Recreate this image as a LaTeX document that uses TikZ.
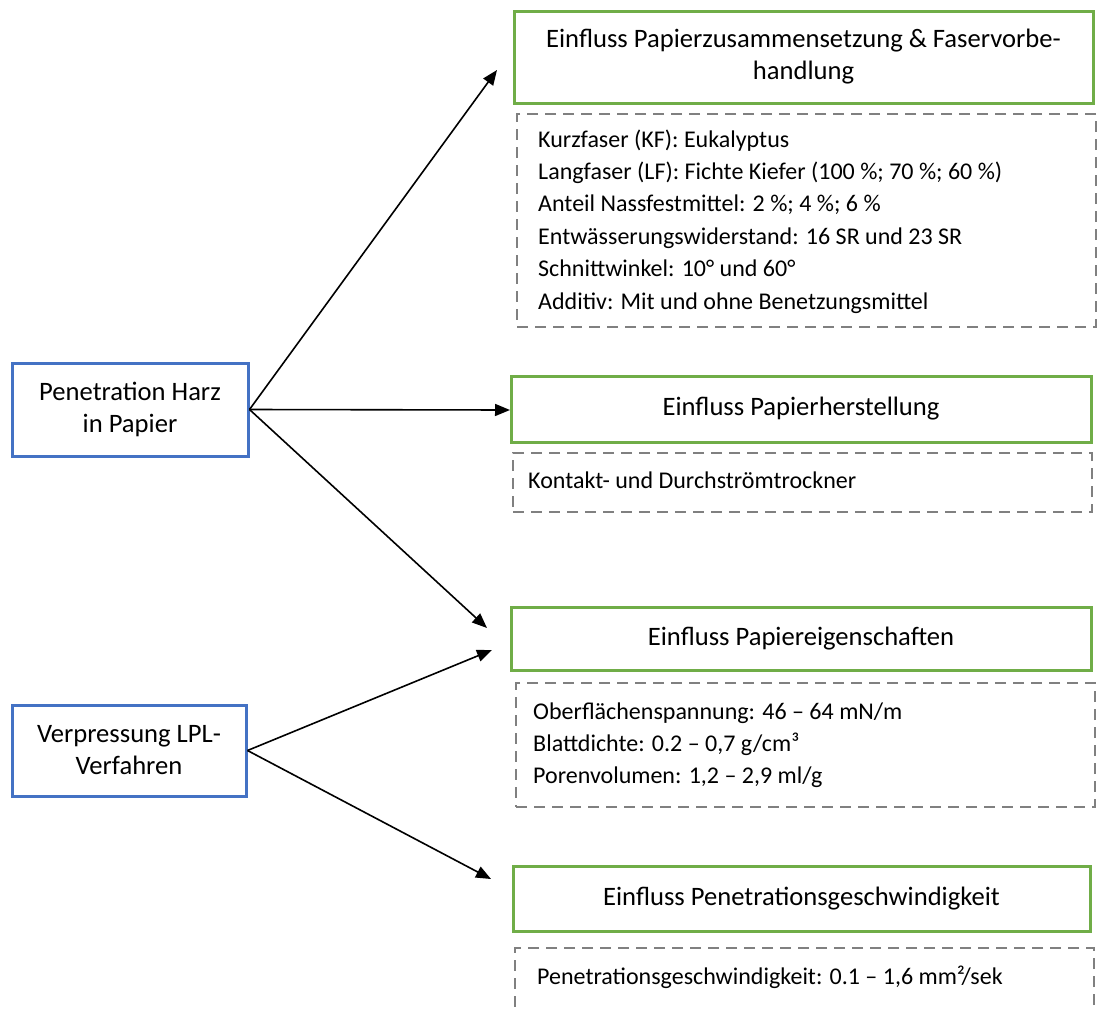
\documentclass[tikz,border=0pt]{standalone}
\usepackage{fontspec}
\setmainfont{Carlito}
\usetikzlibrary{arrows.meta}
\definecolor{boxgreen}{HTML}{70AD47}
\definecolor{boxblue}{HTML}{4472C4}
\definecolor{dashgray}{HTML}{808080}
\begin{document}
\begin{tikzpicture}[x=1pt,y=-1pt,
  every node/.style={font=\fontsize{26.6}{32}\selectfont},
  srcbox/.style={draw=boxblue, line width=3pt, align=center, inner sep=0pt},
  topicbox/.style={draw=boxgreen, line width=3pt, align=center, inner sep=0pt},
  detailbox/.style={draw=dashgray, line width=2pt, dash pattern=on 11pt off 7pt, inner sep=0pt},
  itemtext/.style={anchor=base west, inner sep=0pt, font=\fontsize{24}{32}\selectfont},
  link/.style={-{Triangle[length=15pt,width=12pt]}, line width=1.6pt}]
\useasboundingbox (0,0) rectangle (1097,1009);
\clip (0,0) rectangle (1097,1009);

% source boxes
\node[srcbox, minimum width=236pt, minimum height=93pt] (p1) at (130,409.5) {Penetration Harz\\in Papier};
\node[srcbox, minimum width=234pt, minimum height=91pt] (p2) at (129,750.5) {Verpressung LPL-\\Verfahren};

% topic boxes
\node[topicbox, minimum width=579pt, minimum height=92pt] (g1) at (803.5,57) {Einfluss Papierzusammensetzung \& Faservorbe-\\handlung};
\node[topicbox, minimum width=580pt, minimum height=66pt] (g2) at (801,409) {Einfluss Papierherstellung};
\node[topicbox, minimum width=580pt, minimum height=63pt] (g3) at (801,638.5) {Einfluss Papiereigenschaften};
\node[topicbox, minimum width=577pt, minimum height=65pt] (g4) at (801.5,898.5) {Einfluss Penetrationsgeschwindigkeit};

% detail boxes
\node[detailbox, minimum width=579pt, minimum height=213pt] (d1) at (806.5,220.5) {};
\node[detailbox, minimum width=579pt, minimum height=59pt] (d2) at (802.5,482.5) {};
\node[detailbox, minimum width=579pt, minimum height=124pt] (d3) at (805.5,745) {};
\node[detailbox, minimum width=579pt, minimum height=90pt] (d4) at (804.5,993) {};

% detail texts
\node[itemtext] (d1a) at (538,147) {Kurzfaser (KF): Eukalyptus};
\node[itemtext] (d1b) at (538,179) {Langfaser (LF): Fichte Kiefer (100 \%; 70 \%; 60 \%)};
\node[itemtext] (d1c) at (538,211) {Anteil Nassfestmittel: 2 \%; 4 \%; 6 \%};
\node[itemtext] (d1d) at (538,244) {Entwässerungswiderstand: 16 SR und 23 SR};
\node[itemtext] (d1e) at (538,276) {Schnittwinkel: 10° und 60°};
\node[itemtext] (d1f) at (538,309) {Additiv: Mit und ohne Benetzungsmittel};

\node[itemtext] (d2a) at (528,488) {Kontakt- und Durchströmtrockner};

\node[itemtext] (d3a) at (533,719) {Oberflächenspannung: 46 – 64 mN/m};
\node[itemtext] (d3b) at (533,751) {Blattdichte: 0.2 – 0,7 g/cm³};
\node[itemtext] (d3c) at (533,783) {Porenvolumen: 1,2 – 2,9 ml/g};

\node[itemtext] (d4a) at (537,984) {Penetrationsgeschwindigkeit: 0.1 – 1,6 mm²/sek};

% arrow tips
\coordinate (t1) at (497,70);
\coordinate (t2) at (510,410);
\coordinate (t3) at (487,628);
\coordinate (t4) at (492,650);
\coordinate (t5) at (491,879);

\draw[link] (p1.east) -- (t1);
\draw[link] (p1.east) -- (t2);
\draw[link] (p1.east) -- (t3);
\draw[link] (p2.east) -- (t4);
\draw[link] (p2.east) -- (t5);
\end{tikzpicture}
\end{document}
